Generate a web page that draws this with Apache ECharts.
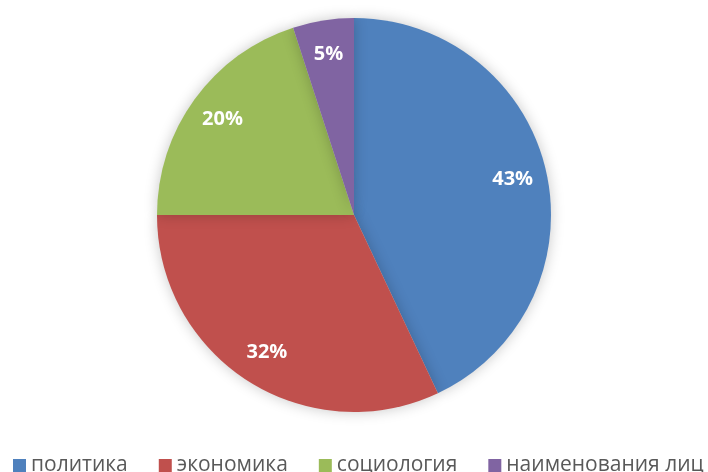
<!DOCTYPE html>
<html>
<head>
<meta charset="utf-8">
<script src="https://cdn.jsdelivr.net/npm/echarts@6/dist/echarts.min.js"></script>
<style>
  html, body { margin: 0; padding: 0; background: #fff; }
  #chart { width: 708px; height: 472px; }
</style>
</head>
<body>
<div id="chart"></div>
<script>
// Share of topics, percent
const categories = ['политика', 'экономика', 'социология', 'наименования лиц'];
const shares = [43, 32, 20, 5];
const colors = ['#4F81BD', '#C0504D', '#9BBB59', '#8064A2'];

const pieData = categories.map((name, i) => ({ name, value: shares[i] }));

const chart = echarts.init(document.getElementById('chart'), null, { renderer: 'canvas' });

const R = 197;
chart.setOption({
  animation: false,
  color: colors,
  legend: {
    top: 450,
    left: 8,
    width: 1000,
    icon: 'rect',
    itemWidth: 13,
    itemHeight: 13,
    itemGap: 31,
    textStyle: { fontFamily: 'Open Sans', fontSize: 21, color: '#595959' },
    data: categories
  },
  series: [
    {
      type: 'pie',
      center: [354, 215],
      radius: [0, R],
      startAngle: 90,
      clockwise: true,
      label: { show: false },
      labelLine: { show: false },
      itemStyle: {
        shadowBlur: 14,
        shadowColor: 'rgba(0,0,0,0.22)',
        shadowOffsetX: 0,
        shadowOffsetY: 0
      },
      emphasis: { disabled: true },
      data: pieData
    },
    {
      // transparent overlay that places the percentage labels further out
      type: 'pie',
      center: [354, 215],
      radius: [0, R * 1.62],
      startAngle: 90,
      clockwise: true,
      silent: true,
      legendHoverLink: false,
      itemStyle: { color: 'rgba(0,0,0,0)' },
      label: {
        show: true,
        position: 'inside',
        formatter: '{c}%',
        color: '#fff',
        fontFamily: 'Open Sans',
        fontWeight: 'bold',
        fontSize: 20
      },
      labelLine: { show: false },
      emphasis: { disabled: true },
      data: pieData.map(d => ({ name: d.name + ' ', value: d.value }))
    }
  ]
});
</script>
</body>
</html>
